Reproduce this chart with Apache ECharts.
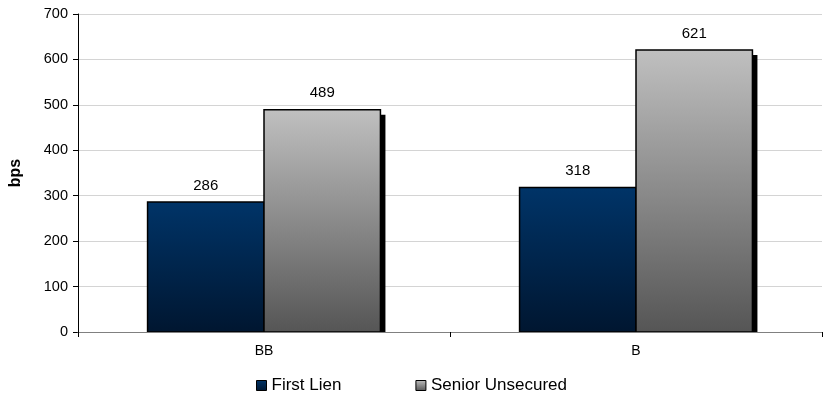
<!DOCTYPE html>
<html><head><meta charset="utf-8">
<script src="https://cdn.jsdelivr.net/npm/echarts@6/dist/echarts.min.js"></script>
<style>html,body{margin:0;padding:0;background:#fff}#c{width:823px;height:401px}</style>
</head><body><div id="c"></div>
<script>
const categories = ['BB', 'B'];
const firstLien = [286, 318];
const seniorUnsecured = [489, 621];
const seriesNames = ['First Lien', 'Senior Unsecured'];
const yTicks = [0, 100, 200, 300, 400, 500, 600, 700];

const font = 'Liberation Sans, Arial, sans-serif';
function grad(top, bottom) {
  return new echarts.graphic.LinearGradient(0, 0, 0, 1, [{offset: 0, color: top}, {offset: 1, color: bottom}]);
}
const fills = [['#003468', '#001630'], ['#c0c0c0', '#555555']];

function makeRender(idx) {
  return function (params, api) {
    const cat = api.value(0), val = api.value(1);
    const top = api.coord([cat, val]);
    const base = api.coord([cat, 0]);
    const band = api.size([1, 0])[0];
    const bw = band * 0.313;
    const x = idx === 0 ? top[0] - bw : top[0];
    const h = base[1] - top[1];
    const sh = 5;
    return {
      type: 'group',
      children: [
        {type: 'rect', shape: {x: x + sh, y: top[1] + sh, width: bw, height: h - sh},
          style: {fill: '#000'}},
        {type: 'rect', shape: {x: x, y: top[1], width: bw, height: h},
          style: {fill: grad(fills[idx][0], fills[idx][1]), stroke: '#000', lineWidth: 1.5}},
        {type: 'text', x: x + bw / 2, y: top[1] - 9,
          style: {text: String(val), align: 'center', verticalAlign: 'bottom',
            fontFamily: font, fontSize: 15, fill: '#000'}}
      ]
    };
  };
}

const chart = echarts.init(document.getElementById('c'), null, {renderer: 'canvas'});
chart.setOption({
  animation: false,
  backgroundColor: '#fff',
  grid: {left: 78, right: 1, top: 14, bottom: 69, containLabel: false},
  legend: {
    bottom: 2, left: 'center', itemGap: 74, itemWidth: 10, itemHeight: 10, icon: 'rect',
    textStyle: {fontFamily: font, fontSize: 17, color: '#000'},
    data: seriesNames.map((n, i) => ({name: n,
      itemStyle: {color: grad(fills[i][0], fills[i][1]), borderColor: '#000', borderWidth: 1}}))
  },
  xAxis: {
    type: 'category', data: categories,
    axisLine: {lineStyle: {color: '#808080', width: 1}},
    axisTick: {show: true, length: 5, lineStyle: {color: '#000'}},
    axisLabel: {fontFamily: font, fontSize: 14, color: '#000', margin: 12},
    z: 5
  },
  yAxis: {
    type: 'value', min: yTicks[0], max: yTicks[yTicks.length - 1], interval: 100,
    name: 'bps', nameLocation: 'middle', nameGap: 54, nameRotate: 90,
    nameTextStyle: {fontFamily: font, fontSize: 16, fontWeight: 'bold', color: '#000'},
    axisLine: {show: true, lineStyle: {color: '#000'}},
    axisTick: {show: true, length: 5, lineStyle: {color: '#000'}},
    axisLabel: {fontFamily: font, fontSize: 14.5, color: '#000', margin: 10},
    splitLine: {lineStyle: {color: '#d4d4d4'}}
  },
  series: [
    {name: seriesNames[0], type: 'custom', renderItem: makeRender(0),
      data: firstLien.map((v, i) => [i, v]), encode: {x: 0, y: 1},
      itemStyle: {color: fills[0][0]}},
    {name: seriesNames[1], type: 'custom', renderItem: makeRender(1),
      data: seniorUnsecured.map((v, i) => [i, v]), encode: {x: 0, y: 1},
      itemStyle: {color: fills[1][0]}}
  ]
});
</script></body></html>
